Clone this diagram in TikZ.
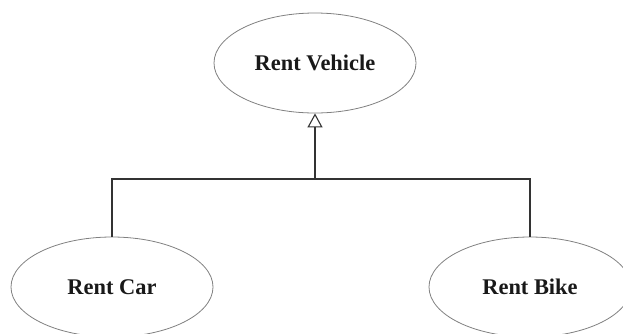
\documentclass[tikz,border=0pt]{standalone}
\usepackage{fontspec}
\setmainfont{Liberation Serif}
\usetikzlibrary{arrows.meta,shapes.geometric}
\begin{document}
\begin{tikzpicture}[x=1bp,y=-1bp,
  usecase/.style={draw=black!50,line width=0.8bp,ellipse,minimum width=202bp,minimum height=100bp,inner sep=0pt,font=\fontsize{22.5}{26}\selectfont\bfseries,text=black!90},
  conn/.style={draw=black!80,line width=1.1bp},
  gen/.style={conn,-{Triangle[open,length=14bp,width=15bp]}}]
\useasboundingbox (0,0) rectangle (623,333);
\clip (0,0) rectangle (623,333);
\node[usecase] (veh) at (315,63) {Rent Vehicle};
\node[usecase] (car) at (112,287) {Rent Car};
\node[usecase] (bike) at (530,287) {Rent Bike};
\coordinate (j) at (veh.south |- 0,179);
\draw[gen] (j) -- (veh.south);
\draw[conn] (car.north) |- (j) -| (bike.north);
\end{tikzpicture}
\end{document}
